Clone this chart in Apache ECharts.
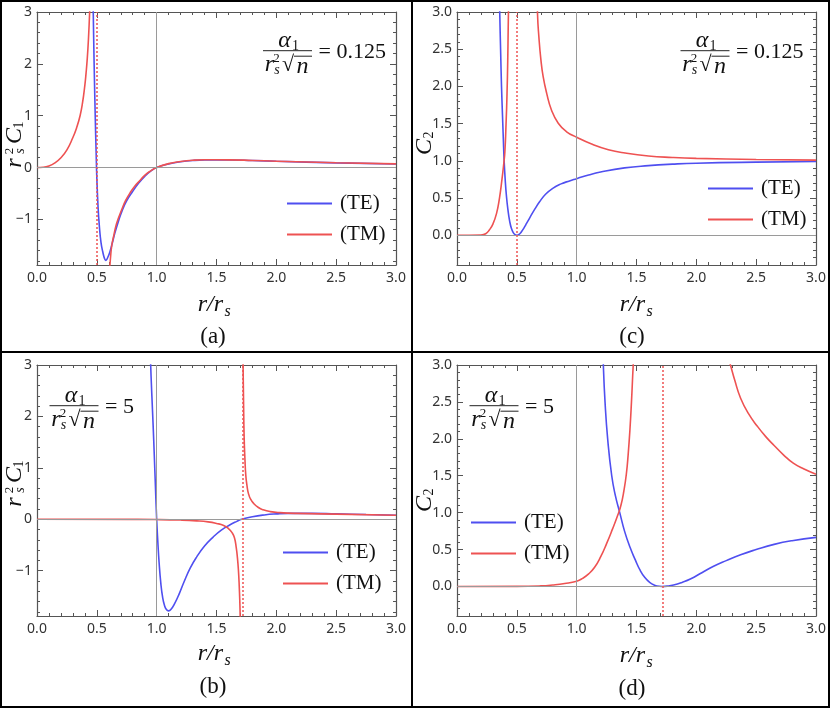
<!DOCTYPE html>
<html lang="en">
<head>
<meta charset="UTF-8">
<script src="https://cdn.jsdelivr.net/npm/echarts@6/dist/echarts.min.js"></script>
<title>C1_C2_TE_TM</title>
<style>html,body{margin:0;padding:0;background:#fff;}</style>
</head>
<body>
<div id="main" style="width:830px;height:708px;"></div>
<script>
// values, null = break at the pole
// (a) alpha = 0.125, r_s^2 C1
var aTeX = [0.465, 0.47, 0.475, 0.48, 0.487, 0.494, 0.5, 0.51, 0.52, 0.535, 0.55, 0.565, 0.575, 0.59, 0.61, 0.63, 0.65, 0.68, 0.71, 0.75, 0.8, 0.85, 0.9, 0.95, 1.0, 1.1, 1.2, 1.3, 1.4, 1.6, 1.8, 2.0, 2.5, 3.0];
var aTeY = [3.6, 3.0, 2.3, 1.7, 0.95, 0.3, -0.2, -0.75, -1.1, -1.45, -1.63, -1.76, -1.79, -1.74, -1.62, -1.45, -1.27, -1.04, -0.84, -0.64, -0.46, -0.3, -0.17, -0.07, 0.0, 0.07, 0.11, 0.135, 0.145, 0.145, 0.135, 0.12, 0.09, 0.068];
var aTmX = [0, 0.05, 0.1, 0.15, 0.2, 0.25, 0.3, 0.33, 0.36, 0.38, 0.4, 0.41, 0.42, 0.43, 0.44, 0.45, 0.5, 0.595, 0.605, 0.615, 0.625, 0.64, 0.66, 0.68, 0.71, 0.74, 0.78, 0.82, 0.86, 0.9, 0.95, 1.0, 1.1, 1.2, 1.3, 1.4, 1.6, 1.8, 2.0, 2.5, 3.0];
var aTmY = [0, 0.005, 0.03, 0.09, 0.19, 0.34, 0.58, 0.76, 1.0, 1.24, 1.59, 1.82, 2.1, 2.48, 3.0, 3.7, null, -2.6, -2.05, -1.72, -1.5, -1.33, -1.12, -0.98, -0.8, -0.64, -0.48, -0.35, -0.25, -0.15, -0.065, 0.0, 0.075, 0.115, 0.14, 0.15, 0.148, 0.137, 0.122, 0.092, 0.07];

// (c) alpha = 0.125, C2
var cTeX = [0.35, 0.357, 0.365, 0.372, 0.38, 0.387, 0.394, 0.403, 0.413, 0.425, 0.44, 0.455, 0.47, 0.485, 0.5, 0.51, 0.525, 0.54, 0.56, 0.58, 0.61, 0.65, 0.69, 0.74, 0.8, 0.87, 0.94, 1.0, 1.1, 1.2, 1.4, 1.6, 1.8, 2.0, 2.5, 3.0];
var cTeY = [3.6, 3.0, 2.45, 2.0, 1.62, 1.3, 1.0, 0.74, 0.53, 0.35, 0.19, 0.09, 0.035, 0.008, 0, 0.004, 0.02, 0.05, 0.1, 0.155, 0.24, 0.35, 0.45, 0.55, 0.63, 0.69, 0.73, 0.76, 0.81, 0.85, 0.905, 0.935, 0.955, 0.968, 0.982, 0.99];
var cTmX = [0, 0.2, 0.24, 0.27, 0.3, 0.33, 0.355, 0.375, 0.39, 0.4, 0.41, 0.418, 0.424, 0.428, 0.432, 0.436, 0.5, 0.668, 0.673, 0.684, 0.701, 0.72, 0.749, 0.79, 0.846, 0.916, 1.0, 1.125, 1.265, 1.405, 1.6, 1.8, 2.0, 2.5, 3.0];
var cTmY = [0, 0.003, 0.02, 0.07, 0.15, 0.29, 0.5, 0.74, 0.95, 1.12, 1.5, 1.9, 2.35, 2.8, 3.2, 3.6, null, 3.5, 2.97, 2.67, 2.36, 2.13, 1.91, 1.68, 1.505, 1.39, 1.317, 1.225, 1.15, 1.105, 1.065, 1.045, 1.033, 1.018, 1.01];

// (b) alpha = 5, r_s^2 C1
var bTeX = [0.945, 0.95, 0.96, 0.97, 0.98, 0.99, 1.0, 1.01, 1.02, 1.035, 1.05, 1.065, 1.08, 1.1, 1.12, 1.15, 1.19, 1.23, 1.28, 1.335, 1.4, 1.47, 1.54, 1.61, 1.67, 1.71, 1.8, 1.9, 2.0, 2.1, 2.3, 2.5, 2.75, 3.0];
var bTeY = [3.5, 3.0, 2.4, 1.85, 1.25, 0.62, 0.0, -0.45, -0.83, -1.25, -1.52, -1.67, -1.75, -1.78, -1.75, -1.64, -1.44, -1.21, -0.95, -0.73, -0.52, -0.35, -0.21, -0.11, -0.04, 0, 0.05, 0.085, 0.105, 0.115, 0.115, 0.105, 0.092, 0.08];
var bTmX = [0, 0.8, 1.0, 1.2, 1.335, 1.43, 1.5, 1.56, 1.6, 1.63, 1.65, 1.665, 1.675, 1.683, 1.69, 1.695, 1.698, 1.702, 1.71, 1.718, 1.722, 1.726, 1.731, 1.738, 1.745, 1.755, 1.767, 1.785, 1.81, 1.85, 1.89, 1.95, 2.03, 2.17, 2.5, 3.0];
var bTmY = [0, -0.002, -0.005, -0.015, -0.03, -0.05, -0.08, -0.12, -0.18, -0.26, -0.36, -0.55, -0.75, -0.98, -1.3, -1.62, -1.9, -2.4, null, 3.5, 3.0, 2.3, 1.6, 1.15, 0.85, 0.65, 0.5, 0.39, 0.31, 0.23, 0.185, 0.15, 0.13, 0.115, 0.1, 0.08];

// (d) alpha = 5, C2
var dTeX = [1.215, 1.223, 1.237, 1.259, 1.293, 1.325, 1.36, 1.4, 1.446, 1.49, 1.53, 1.57, 1.61, 1.65, 1.69, 1.715, 1.76, 1.81, 1.88, 1.95, 2.05, 2.14, 2.25, 2.37, 2.5, 2.65, 2.8, 3.0];
var dTeY = [3.5, 3.0, 2.5, 2.0, 1.5, 1.22, 1.0, 0.75, 0.53, 0.36, 0.22, 0.12, 0.055, 0.018, 0.002, 0, 0.005, 0.02, 0.055, 0.1, 0.19, 0.27, 0.35, 0.43, 0.5, 0.57, 0.62, 0.665];
var dTmX = [0, 0.5, 0.7, 0.8, 0.9, 1.0, 1.05, 1.1, 1.15, 1.2, 1.25, 1.3, 1.34, 1.37, 1.395, 1.415, 1.43, 1.445, 1.458, 1.468, 1.475, 1.482, 1.7, 2.24, 2.285, 2.32, 2.37, 2.44, 2.51, 2.58, 2.65, 2.73, 2.81, 2.9, 3.0];
var dTmY = [0, 0.001, 0.008, 0.02, 0.04, 0.072, 0.11, 0.17, 0.26, 0.4, 0.58, 0.78, 0.95, 1.1, 1.3, 1.52, 1.78, 2.12, 2.5, 2.85, 3.1, 3.5, null, 3.25, 3.0, 2.8, 2.55, 2.33, 2.17, 2.03, 1.91, 1.78, 1.67, 1.59, 1.52];

var poles = [0.5, 0.5, 1.715, 1.715];   // red dotted lines, order a c b d
var alphaText = ['0.125', '0.125', '5', '5'];
var c1Ticks = [-1, 0, 1, 2, 3];
var c2Ticks = [0, 0.5, 1, 1.5, 2, 2.5, 3];
var c1Range = [-1.88, 3];
var c2Range = [-0.4, 3];

var BLUE = '#4f4ff0', RED = '#ee5252', FRAME = '#555', GRAY = '#9a9a9a';
var SERIF = 'Liberation Serif';

function pairs(xs, ys) {
    return xs.map(function (x, i) { return [x, ys[i]]; });
}
function minors(k0, k1, step) {
    var out = [];
    for (var k = k0; k <= k1; k++) {
        if (k % 5 !== 0) out.push(Math.round(k * step * 100) / 100);
    }
    return out;
}
var c1Minor = minors(-9, 14, 0.2);
var c2Minor = minors(-4, 29, 0.1);

var panels = [
    {te: pairs(aTeX, aTeY), tm: pairs(aTmX, aTmY), kind: 1},
    {te: pairs(cTeX, cTeY), tm: pairs(cTmX, cTmY), kind: 2},
    {te: pairs(bTeX, bTeY), tm: pairs(bTmX, bTmY), kind: 1},
    {te: pairs(dTeX, dTeY), tm: pairs(dTmX, dTmY), kind: 2}
];
var grids = [
    {left: 37, top: 12, width: 359, height: 253},
    {left: 457, top: 12, width: 359, height: 253},
    {left: 37, top: 365, width: 359, height: 251},
    {left: 457, top: 365, width: 359, height: 251}
];
var legendPos = [[287, 193], [708, 178], [283, 542], [471, 512]];

var xAxes = [], yAxes = [], series = [], legends = [];
panels.forEach(function (p, i) {
    var range = p.kind === 1 ? c1Range : c2Range;
    var major = p.kind === 1 ? c1Ticks : c2Ticks;
    var minor = p.kind === 1 ? c1Minor : c2Minor;
    ['bottom', 'top'].forEach(function (pos) {
        xAxes.push({
            gridIndex: i, type: 'value', min: 0, max: 3, interval: 0.5, position: pos,
            axisLine: {show: true, onZero: false, lineStyle: {color: FRAME, width: 1.2}},
            axisTick: {inside: true, length: 6, lineStyle: {color: FRAME}},
            minorTick: {show: true, splitNumber: 5, length: 3, lineStyle: {color: FRAME}},
            axisLabel: {
                show: pos === 'bottom', margin: 6, color: '#333', fontSize: 14, fontFamily: 'Noto Sans',
                formatter: function (v) { return v.toFixed(1); }
            },
            splitLine: {show: false}
        });
    });
    ['left', 'right'].forEach(function (pos) {
        yAxes.push({
            gridIndex: i, type: 'value', min: range[0], max: range[1], position: pos,
            axisLine: {show: true, onZero: false, lineStyle: {color: FRAME, width: 1.2}},
            axisTick: {inside: true, length: 6, customValues: major, lineStyle: {color: FRAME}},
            axisLabel: {
                show: pos === 'left', customValues: major, margin: 5, color: '#333', fontSize: 14, fontFamily: 'Noto Sans',
                formatter: function (v) {
                    if (p.kind === 2) return v.toFixed(1);
                    return v < 0 ? '\u2212' + (-v) : '' + v;
                }
            },
            splitLine: {show: false}
        });
        yAxes.push({
            gridIndex: i, type: 'value', min: range[0], max: range[1], position: pos,
            axisLine: {show: false, onZero: false},
            axisTick: {inside: true, length: 3, customValues: minor, lineStyle: {color: FRAME}},
            axisLabel: {show: false},
            splitLine: {show: false}
        });
    });
    var xi = i * 2, yi = i * 4;
    series.push({
        type: 'line', xAxisIndex: xi, yAxisIndex: yi, data: [], z: 1, silent: true,
        markLine: {
            silent: true, symbol: ['none', 'none'], animation: false, label: {show: false},
            lineStyle: {color: GRAY, type: 'solid', width: 1},
            data: [
                {xAxis: 1},
                {yAxis: 0},
                {xAxis: poles[i], lineStyle: {color: RED, type: [2, 2], width: 1.5}}
            ]
        }
    });
    series.push({
        name: '(TE)', type: 'line', xAxisIndex: xi, yAxisIndex: yi, data: p.te, z: 3,
        symbol: 'none', smooth: 0.5, connectNulls: false,
        lineStyle: {color: BLUE, width: 1.6}, itemStyle: {color: BLUE}
    });
    series.push({
        name: '(TM)', type: 'line', xAxisIndex: xi, yAxisIndex: yi, data: p.tm, z: 4,
        symbol: 'none', smooth: 0.5, connectNulls: false,
        lineStyle: {color: RED, width: 1.6}, itemStyle: {color: RED}
    });
    legends.push({
        data: [{name: '(TE)', icon: 'rect'}, {name: '(TM)', icon: 'rect'}],
        orient: 'vertical', left: legendPos[i][0], top: legendPos[i][1], padding: 0,
        itemWidth: 45, itemHeight: 2, itemGap: 10, selectedMode: false,
        textStyle: {fontFamily: SERIF, fontSize: 21, color: '#111', padding: [0, 0, 0, 3]}
    });
});

// text pieces (math set by hand)
function T(x, y, s, size, italic, align) {
    return {type: 'text', x: x, y: y, silent: true,
        style: {text: s, fontSize: size, fontFamily: SERIF, fontStyle: italic ? 'italic' : 'normal',
            fill: '#111', align: align || 'center', verticalAlign: 'middle'}};
}
function L(x1, y1, x2, y2, color, w) {
    return {type: 'line', silent: true, shape: {x1: x1, y1: y1, x2: x2, y2: y2}, style: {stroke: color, lineWidth: w}};
}
function fraction(cx, cy, val) {
    return [
        T(cx - 3, cy - 10, '\u03b1', 24, true),
        T(cx + 8, cy - 4, '1', 14),
        L(cx - 24.5, cy, cx + 24.5, cy, '#222', 1),
        T(cx - 18, cy + 14, 'r', 24, true),
        T(cx - 11, cy + 8, '2', 13),
        T(cx - 10.5, cy + 19.5, 's', 14, true),
        T(cx + 0.5, cy + 15, '\u221a', 22),
        L(cx + 6.5, cy + 5.5, cx + 24.5, cy + 5.5, '#222', 1),
        T(cx + 15, cy + 15.5, 'n', 24, true),
        T(cx + 31, cy + 1.5, '= ' + val, 22, false, 'left')
    ];
}
function yTitleC1(x, y) {
    return {type: 'group', x: x, y: y, rotation: Math.PI / 2, children: [
        T(-18, 0, 'r', 24, true),
        T(-6, -5.5, '2', 13),
        T(-6, 5, 's', 14, true),
        T(9, 0, 'C', 24, true),
        T(20, 4, '1', 14)
    ]};
}
function yTitleC2(x, y) {
    return {type: 'group', x: x, y: y, rotation: Math.PI / 2, children: [
        T(-5, 0, 'C', 24, true),
        T(7, 4, '2', 14)
    ]};
}
function xTitle(x, y) {
    return [T(x + 8, y, 'r/r', 24, true, 'right'), T(x + 9.5, y + 7, 's', 16, true, 'left')];
}

var graphics = [
    {type: 'rect', silent: true, shape: {x: 1, y: 1, width: 828, height: 706}, style: {fill: 'none', stroke: '#000', lineWidth: 2}},
    L(412, 0, 412, 708, '#000', 2),
    L(0, 352, 830, 352, '#000', 2),
    yTitleC1(15, 145), yTitleC1(15, 484),
    yTitleC2(425, 142), yTitleC2(425, 499),
    T(213, 337, '(a)', 23), T(632, 337, '(c)', 23),
    T(213, 687, '(b)', 23), T(632, 689, '(d)', 23)
]
    .concat(fraction(287.5, 50.7, alphaText[0]))
    .concat(fraction(705, 50.7, alphaText[1]))
    .concat(fraction(74, 405.7, alphaText[2]))
    .concat(fraction(494, 405.7, alphaText[3]))
    .concat(xTitle(215, 305)).concat(xTitle(637, 305))
    .concat(xTitle(215, 654)).concat(xTitle(637, 656));

var chart = echarts.init(document.getElementById('main'));
chart.setOption({
    backgroundColor: '#fff',
    animation: false,
    grid: grids,
    xAxis: xAxes,
    yAxis: yAxes,
    legend: legends,
    series: series,
    graphic: graphics
});
</script>
</body>
</html>
